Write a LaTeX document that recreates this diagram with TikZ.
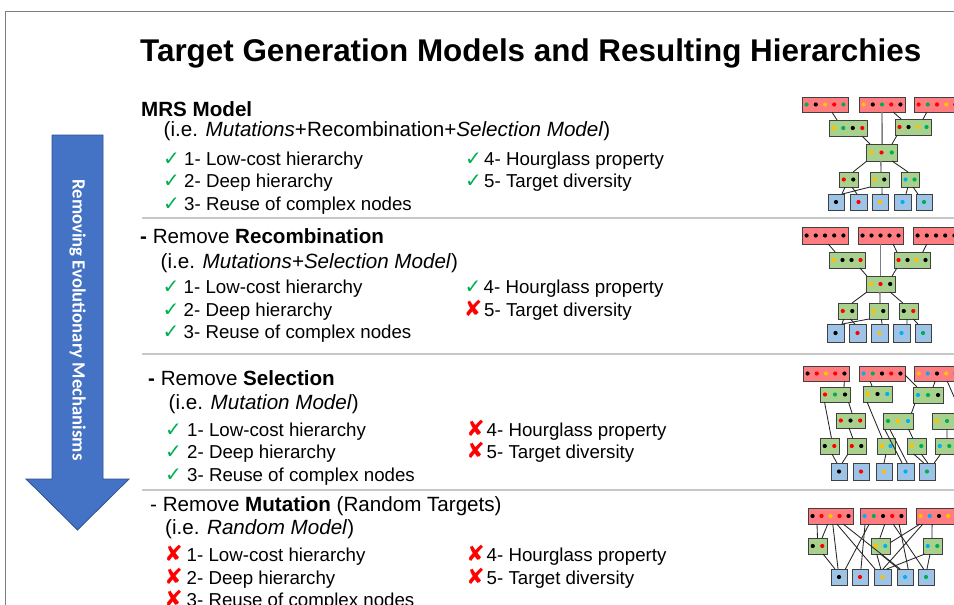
\documentclass[tikz,border=0pt]{standalone}
\usepackage{fontspec}
\setmainfont{Liberation Sans}
\newfontfamily\symf{DejaVu Sans}
\newfontfamily\calf{Carlito}
\usetikzlibrary{calc}
\definecolor{redbox}{HTML}{FF7C80}
\definecolor{grnbox}{HTML}{A9D18E}
\definecolor{bluebox}{HTML}{9DC3E6}
\definecolor{dk}{HTML}{000000}
\definecolor{dr}{HTML}{FF0000}
\definecolor{dy}{HTML}{FFC000}
\definecolor{dg}{HTML}{00B050}
\definecolor{db}{HTML}{00B0F0}
\definecolor{arrowblue}{HTML}{4472C4}
\definecolor{arrowedge}{HTML}{2F528F}
\definecolor{chk}{HTML}{00B050}
\definecolor{sepc}{HTML}{C8C8C8}
\definecolor{framec}{HTML}{7F7F7F}
\definecolor{boxedge}{HTML}{404040}

\newcommand\netbox[8]{%
  \node[netb, fill=#6, minimum width={(#4-#2)*1pt}, minimum height={(#5-#3)*1pt}] (#1) at ({(#2+#4)/2},{(#3+#5)/2}) {};
  \foreach \cc [count=\ii] in {#8} \fill[fill=\cc] ({#2+(#4-#2)*(\ii-0.5)/#7},{(#3+#5)/2}) circle (2.1pt);
}
\newcommand\lnk[5][]{\draw[link,#1] ($(#2.south west)!#3!(#2.south east)$) -- ($(#4.north west)!#5!(#4.north east)$);}
\newcommand\okmark{{\symf\color{chk}\fontsize{20}{22}\selectfont ✓}}
\newcommand\nomark{{\symf\bfseries\color{dr}\fontsize{22}{24}\selectfont ✘}}

\tikzset{
  netb/.style={draw=boxedge, line width=0.9pt, inner sep=0pt, outer sep=0pt},
  link/.style={draw=black!85, line width=0.85pt},
  trunk/.style={draw=framec, line width=1.4pt},
  txt/.style={anchor=base west, inner sep=0pt, font=\fontsize{18.7}{22}\selectfont},
  hdr/.style={anchor=base west, inner sep=0pt, font=\fontsize{20.6}{24}\selectfont},
  mk/.style={anchor=base east, inner sep=0pt},
  sepline/.style={draw=sepc, line width=1.5pt},
  frameline/.style={draw=framec, line width=1pt}
}

\begin{document}
\begin{tikzpicture}[x=1pt, y=-1pt]
\useasboundingbox (0,0) rectangle (954,605);
\fill[white] (0,0) rectangle (954,605);

% frame
\draw[frameline] (5,605) -- (5,11) -- (954,11);

% title
\node[anchor=base west, inner sep=0pt, font=\bfseries\fontsize{31.4}{36}\selectfont] (title) at (140,61) {Target Generation Models and Resulting Hierarchies};

% arrow
\draw[fill=arrowblue, draw=arrowedge, line width=0.8pt] (52,135) -- (103,135) -- (103,479) -- (129,479) -- (77.5,530) -- (26,479) -- (52,479) -- cycle;
\node[rotate=-90, text=white, inner sep=0pt, font=\calf\bfseries\fontsize{18.7}{20}\selectfont] (arrowtxt) at (77.5,320) {Removing Evolutionary Mechanisms};

% separators
\draw[sepline] (142,218) -- (954,218);
\draw[sepline] (142,354) -- (954,354);
\draw[sepline] (142,490) -- (954,490);

% ---------- Section 1
\node[hdr] (s1h) at (141,116) {\bfseries MRS Model};
\node[hdr] (s1m) at (163.5,136.5) {(i.e. \textit{Mutations}+Recombination+\textit{Selection Model})};
\node[mk] (s1c1) at (180,165) {\okmark};
\node[txt] (s1t1) at (184,165) {1- Low-cost hierarchy};
\node[mk] (s1c2) at (180,187.5) {\okmark};
\node[txt] (s1t2) at (184,187.5) {2- Deep hierarchy};
\node[mk] (s1c3) at (180,210) {\okmark};
\node[txt] (s1t3) at (184,210) {3- Reuse of complex nodes};
\node[mk] (s1c4) at (482,165) {\okmark};
\node[txt] (s1t4) at (484,165) {4- Hourglass property};
\node[mk] (s1c5) at (482,187.5) {\okmark};
\node[txt] (s1t5) at (484,187.5) {5- Target diversity};

% ---------- Section 2
\node[hdr] (s2h) at (140,243.5) {\textbf{-} Remove \textbf{Recombination}};
\node[hdr] (s2m) at (160.5,268.5) {(i.e. \textit{Mutations+Selection Model})};
\node[mk] (s2c1) at (179.5,293.5) {\okmark};
\node[txt] (s2t1) at (183.5,293.5) {1- Low-cost hierarchy};
\node[mk] (s2c2) at (179.5,316) {\okmark};
\node[txt] (s2t2) at (183.5,316) {2- Deep hierarchy};
\node[mk] (s2c3) at (179.5,338.5) {\okmark};
\node[txt] (s2t3) at (183.5,338.5) {3- Reuse of complex nodes};
\node[mk] (s2c4) at (481.5,293.5) {\okmark};
\node[txt] (s2t4) at (483.5,293.5) {4- Hourglass property};
\node[mk] (s2c5) at (482.5,316) {\nomark};
\node[txt] (s2t5) at (484,316) {5- Target diversity};

% ---------- Section 3
\node[hdr] (s3h) at (148,385) {\textbf{-} Remove \textbf{Selection}};
\node[hdr] (s3m) at (168.5,409.5) {(i.e. \textit{Mutation Model})};
\node[mk] (s3c1) at (182,436) {\okmark};
\node[txt] (s3t1) at (187,436) {1- Low-cost hierarchy};
\node[mk] (s3c2) at (182,458.5) {\okmark};
\node[txt] (s3t2) at (187,458.5) {2- Deep hierarchy};
\node[mk] (s3c3) at (182,481) {\okmark};
\node[txt] (s3t3) at (187,481) {3- Reuse of complex nodes};
\node[mk] (s3c4) at (485,436) {\nomark};
\node[txt] (s3t4) at (486.5,436) {4- Hourglass property};
\node[mk] (s3c5) at (485,458.5) {\nomark};
\node[txt] (s3t5) at (486.5,458.5) {5- Target diversity};

% ---------- Section 4
\node[hdr] (s4h) at (150,511) {- Remove \textbf{Mutation} (Random Targets)};
\node[hdr] (s4m) at (165,534) {(i.e. \textit{Random Model})};
\node[mk] (s4c1) at (183,561.5) {\nomark};
\node[txt] (s4t1) at (186.5,561.5) {1- Low-cost hierarchy};
\node[mk] (s4c2) at (183,584) {\nomark};
\node[txt] (s4t2) at (186.5,584) {2- Deep hierarchy};
\node[mk] (s4c3) at (183,606) {\nomark};
\node[txt] (s4t3) at (186.5,606) {3- Reuse of complex nodes};
\node[mk] (s4c4) at (485,561.5) {\nomark};
\node[txt] (s4t4) at (486.5,561.5) {4- Hourglass property};
\node[mk] (s4c5) at (485,584) {\nomark};
\node[txt] (s4t5) at (486.5,584) {5- Target diversity};

% ---------- Network 1 (MRS)
\netbox{aR1}{802}{97}{848}{112}{redbox}{5}{dg,dk,dy,dr,dg}
\netbox{aR2}{859}{97}{905}{112}{redbox}{5}{dy,dk,dg,dr,dk}
\netbox{aR3}{914}{97}{960}{112}{redbox}{5}{dr,dg,dr,dy,dk}
\netbox{aA}{829}{120}{867}{136}{grnbox}{4}{dy,dg,dk,dr}
\netbox{aB}{895}{119}{931}{135}{grnbox}{4}{dr,dk,dy,dg}
\netbox{aM}{866}{144}{897}{161}{grnbox}{3}{dy,dr,dg}
\netbox{aL1}{839}{172}{858}{187}{grnbox}{2}{dr,dk}
\netbox{aL2}{870}{172}{889}{187}{grnbox}{2}{dy,dk}
\netbox{aL3}{901}{172}{919}{187}{grnbox}{2}{db,dg}
\netbox{aT1}{828}{194}{844}{210}{bluebox}{1}{dk}
\netbox{aT2}{850}{194}{867}{210}{bluebox}{1}{dr}
\netbox{aT3}{872}{194}{888}{210}{bluebox}{1}{dy}
\netbox{aT4}{894}{194}{911}{210}{bluebox}{1}{db}
\netbox{aT5}{916}{194}{932}{210}{bluebox}{1}{dg}
\lnk{aR1}{0.65}{aA}{0.21}
\lnk[trunk]{aR2}{0.5}{aM}{0.52}
\lnk{aR2}{0.74}{aB}{0.17}
\lnk{aR3}{0.28}{aB}{0.78}
\lnk{aA}{0.87}{aM}{0.13}
\lnk{aB}{0.06}{aM}{0.84}
\lnk{aM}{0.03}{aL1}{0.74}
\lnk[trunk]{aM}{0.48}{aL2}{0.58}
\lnk{aM}{0.84}{aL3}{0.39}
\lnk{aL1}{0.32}{aT1}{0.87}
\lnk{aL1}{0.68}{aT2}{0.41}
\draw[link] (aL2.south west) -- ($(aT1.north west)!0.9!(aT1.north east)$);
\lnk{aL2}{0.63}{aT3}{0.63}
\lnk{aL3}{0.39}{aT4}{0.7}
\lnk{aL3}{0.67}{aT5}{0.12}

% ---------- Network 2 (no recombination)
\netbox{bR1}{802}{227}{848}{244}{redbox}{5}{dk,dk,dk,dk,dk}
\netbox{bR2}{858}{227}{903}{244}{redbox}{5}{dk,dk,dk,dk,dk}
\netbox{bR3}{913}{227}{959}{244}{redbox}{5}{dk,dk,dk,dk,dk}
\netbox{bA}{829}{252}{865}{268}{grnbox}{4}{dy,dk,dk,dr}
\netbox{bB}{894}{252}{930}{268}{grnbox}{4}{dr,dk,dy,dk}
\netbox{bM}{866}{276}{895}{292}{grnbox}{3}{dy,dr,dk}
\netbox{bL1}{838}{303}{857}{319}{grnbox}{2}{dr,dk}
\netbox{bL2}{869}{303}{888}{319}{grnbox}{2}{dy,dk}
\netbox{bL3}{899}{303}{918}{319}{grnbox}{2}{dk,dr}
\netbox{bT1}{827}{324}{844}{342}{bluebox}{1}{dk}
\netbox{bT2}{849}{324}{866}{342}{bluebox}{1}{dr}
\netbox{bT3}{871}{324}{888}{342}{bluebox}{1}{dy}
\netbox{bT4}{893}{324}{910}{342}{bluebox}{1}{db}
\netbox{bT5}{915}{324}{931}{342}{bluebox}{1}{dg}
\lnk{bR1}{0.57}{bA}{0.17}
\lnk[trunk]{bR2}{0.5}{bM}{0.5}
\lnk{bR2}{0.78}{bB}{0.08}
\lnk{bR3}{0.3}{bB}{0.8}
\lnk{bA}{0.86}{bM}{0.03}
\lnk{bB}{0.08}{bM}{0.9}
\lnk{bM}{0.03}{bL1}{0.74}
\lnk[trunk]{bM}{0.48}{bL2}{0.58}
\lnk{bM}{0.83}{bL3}{0.2}
\lnk{bL1}{0.3}{bT1}{0.88}
\lnk{bL1}{0.65}{bT2}{0.35}
\draw[link] (bL2.south west) -- ($(bT1.north west)!0.9!(bT1.north east)$);
\lnk{bL2}{0.65}{bT3}{0.65}
\lnk{bL3}{0.42}{bT4}{0.82}
\lnk{bL3}{0.75}{bT5}{0.18}

% ---------- Network 3 (no selection)
\netbox{cR1}{803}{366}{849}{381}{redbox}{5}{dk,dr,dy,dr,dk}
\netbox{cR2}{859}{366}{905}{381}{redbox}{5}{db,dg,dk,dr,dk}
\netbox{cR3}{914}{366}{960}{381}{redbox}{5}{dy,db,dk,dy,dg}
\netbox{ca}{820}{387}{850}{402}{grnbox}{3}{dr,dg,dk}
\netbox{cb}{863}{386}{892}{402}{grnbox}{3}{dy,dk,db}
\netbox{cc}{913}{387}{943}{403}{grnbox}{3}{db,dg,dk}
\netbox{cd}{836}{413}{865}{428}{grnbox}{3}{dr,dk,dr}
\netbox{ce}{883}{413}{913}{429}{grnbox}{3}{dg,dy,db}
\netbox{cf}{932}{413}{962}{429}{grnbox}{3}{dy,dg,dg}
\netbox{cg}{820}{438}{839}{454}{grnbox}{2}{dk,dr}
\netbox{ch}{847}{438}{866}{454}{grnbox}{2}{dr,dk}
\netbox{ci}{877}{438}{895}{454}{grnbox}{2}{dy,db}
\netbox{cj}{907}{438}{926}{454}{grnbox}{2}{dy,dg}
\netbox{ck}{935}{438}{954}{454}{grnbox}{2}{db,dg}
\netbox{cT1}{831}{463}{847}{480}{bluebox}{1}{dk}
\netbox{cT2}{853}{463}{869}{480}{bluebox}{1}{dr}
\netbox{cT3}{876}{463}{892}{480}{bluebox}{1}{dy}
\netbox{cT4}{897}{463}{914}{480}{bluebox}{1}{db}
\netbox{cT5}{919}{463}{935}{480}{bluebox}{1}{dg}
\lnk{cR1}{0.9}{ca}{0.8}
\lnk{ca}{0.95}{cd}{0.55}
\lnk{ca}{0.15}{cg}{0.6}
\lnk{cd}{0.45}{ch}{0.3}
\lnk{cR2}{0.24}{cb}{0.31}
\lnk{cb}{0.14}{ci}{0.28}
\draw[link] ($(cR2.north east)!0.6!(cR2.south east)$) -- ($(cc.north west)!0.13!(cc.north east)$);
\lnk{cR3}{0.46}{cc}{0.67}
\lnk{cR3}{0.72}{cf}{0.97}
\lnk{cc}{0.07}{ce}{0.95}
\lnk{ce}{0.05}{cT4}{0.3}
\lnk{ce}{0.22}{cT4}{0.6}
\lnk{ce}{0.85}{cj}{0.3}
\lnk{ci}{0.5}{cT3}{0.5}
\lnk{cj}{0.35}{cT5}{0.3}
\lnk{cj}{0.75}{cT5}{0.55}
\lnk{ck}{0.3}{cT5}{0.95}
\lnk{cf}{0.5}{ck}{0.63}
\lnk{cg}{0.63}{cT1}{0.37}
\lnk{ch}{0.05}{cT1}{0.7}

% ---------- Network 4 (random)
\netbox{dR1}{808}{508}{853}{524}{redbox}{5}{dk,dr,dy,dr,dk}
\netbox{dR2}{860}{508}{906}{524}{redbox}{5}{db,dg,dk,dr,dk}
\netbox{dR3}{916}{508}{962}{524}{redbox}{5}{dy,db,dk,dy,dg}
\netbox{dg1}{808}{538}{827}{554}{grnbox}{2}{dk,dr}
\netbox{dg2}{871}{538}{890}{554}{grnbox}{2}{dy,db}
\netbox{dg3}{923}{538}{942}{554}{grnbox}{2}{db,dg}
\netbox{dT1}{831}{569}{847}{585}{bluebox}{1}{dk}
\netbox{dT2}{852}{569}{868}{585}{bluebox}{1}{dr}
\netbox{dT3}{874}{569}{891}{585}{bluebox}{1}{dy}
\netbox{dT4}{897}{569}{913}{585}{bluebox}{1}{db}
\netbox{dT5}{918}{569}{934}{585}{bluebox}{1}{dg}
\lnk{dR1}{0.2}{dg1}{0.5}
\lnk{dR1}{0.44}{dg1}{0.74}
\lnk{dR1}{0.55}{dT1}{0.44}
\lnk{dR1}{0.64}{dT3}{0.06}
\lnk{dR1}{0.78}{dT4}{0.2}
\lnk{dR2}{0.11}{dT2}{0.56}
\lnk{dR2}{0.2}{dT1}{0.9}
\lnk{dR2}{0.54}{dg2}{0.47}
\lnk{dR2}{0.72}{dT5}{0.35}
\lnk{dR2}{0.85}{dT4}{0.7}
\draw[link] ($(dR3.south west)!0.09!(dR3.south east)$) -- ($(dg2.north east)!0.3!(dg2.south east)$);
\lnk{dR3}{0.15}{dT3}{0.53}
\lnk{dR3}{0.35}{dg3}{0.47}
\lnk{dg1}{0.79}{dT1}{0.25}
\lnk{dg2}{0.3}{dT3}{0.4}
\lnk{dg2}{0.5}{dT4}{0.1}
\lnk{dg3}{0.37}{dT5}{0.56}
\lnk{dg3}{0.1}{dT3}{0.75}
\end{tikzpicture}
\end{document}
